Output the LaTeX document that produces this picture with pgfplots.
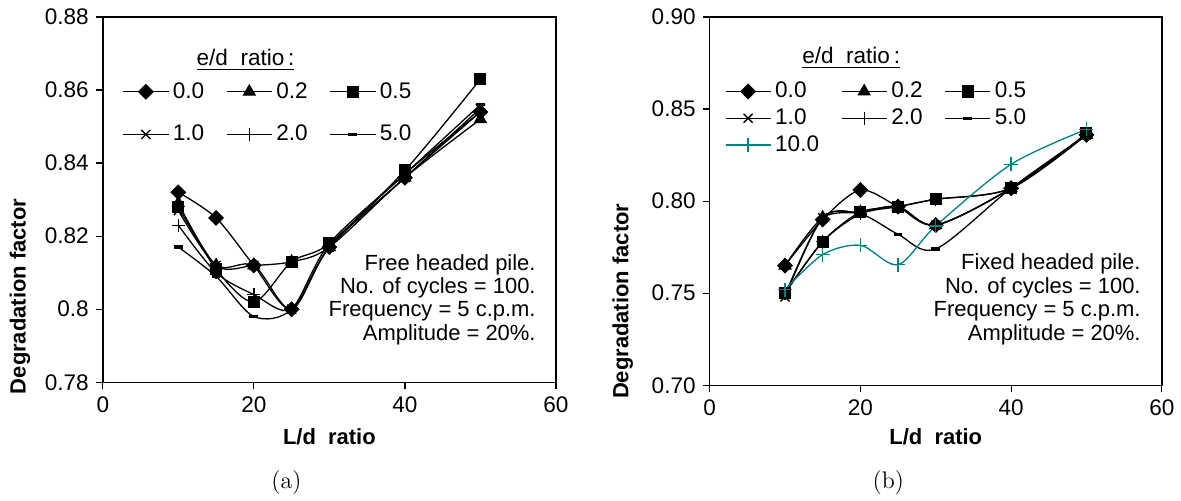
\documentclass[border=0pt]{standalone}
\usepackage{pgfplots}
\usepackage{pgfplotstable}
\usepackage{fontspec}
\pgfplotsset{compat=1.18}
\newfontfamily\arial{Liberation Sans}
\definecolor{tealc}{RGB}{0,128,128}

\pgfplotstableread{
x  d00   d02   d05   d10   d20   d50
10 0.832 0.829 0.828 0.827 0.823 0.817
15 0.825 0.812 0.811 0.812 0.810 0.809
20 0.812 0.812 0.802 0.812 0.804 0.798
25 0.800 0.813 0.813 0.800 0.800 0.800
30 0.817 0.817 0.818 0.817 0.817 0.818
40 0.836 0.836 0.838 0.836 0.837 0.837
50 0.854 0.852 0.863 0.855 0.854 0.856
}\leftdata

\pgfplotstableread{
x  d00   d02   d05   d10   d20   d50   d100
10 0.765 0.765 0.750 0.748 0.750 0.749 0.752
15 0.790 0.791 0.778 0.791 0.778 0.791 0.771
20 0.806 0.794 0.794 0.794 0.793 0.793 0.776
25 0.797 0.797 0.797 0.797 0.797 0.782 0.7655
30 0.787 0.787 0.801 0.787 0.801 0.774 0.7865
40 0.807 0.807 0.807 0.807 0.807 0.807 0.820
50 0.836 0.836 0.837 0.836 0.836 0.836 0.839
}\rightdata

\pgfplotsset{
  common/.style={
    scale only axis,
    xmin=0, xmax=60, xtick={0,20,40,60},
    axis line style={line width=0.7pt},
    tick style={line width=0.6pt, black},
    tick align=outside, major tick length=3.5pt,
    xtick pos=bottom, ytick pos=left,
    /pgf/number format/assume math mode=true,
    tick label style={font=\arial\fontsize{11.3}{13}\selectfont},
    label style={font=\arial\bfseries\fontsize{11}{13}\selectfont},
    xlabel={L/d\ \ ratio},
    ylabel={Degradation factor},
    legend columns=3,
    legend cell align=left,
    legend image code/.code={\draw[mark repeat=2,mark phase=2,##1] plot coordinates {(0pt,0pt) (11.25pt,0pt) (22.5pt,0pt)};},
    every axis plot/.append style={line width=0.65pt, smooth, tension=0.5},
  },
  s00/.style={black, mark=square*, mark size=2.5pt, mark options={rotate=45, solid}},
  s02/.style={black, mark=triangle*, mark size=3.3pt, mark options={solid}},
  s05/.style={black, mark=square*, mark size=2.7pt, mark options={solid}},
  s10/.style={black, mark=x, mark size=3.2pt, mark options={solid}},
  s20/.style={black, mark=+, mark size=3.2pt, mark options={solid}},
  s50/.style={black, mark=-, mark size=2.2pt, mark options={solid, line width=1.7pt}},
  s100/.style={tealc, mark=+, mark size=3.5pt, mark options={solid}},
}

\begin{document}
\begin{tikzpicture}
\path (0,0) rectangle (590.5pt,-248.5pt);

\begin{axis}[common,
  at={(51.5pt,-191.5pt)}, anchor=south west,
  width=227pt, height=183pt,
  ymin=0.78, ymax=0.88,
  ytick={0.78,0.80,0.82,0.84,0.86,0.88},
  yticklabels={0.78,0.8,0.82,0.84,0.86,0.88},
  xlabel style={at={(axis description cs:0.5,-0.150)}, anchor=center},
  ylabel style={at={(axis description cs:-0.183,0.235)}, anchor=center},
  legend style={at={(axis description cs:0.043,0.833)}, anchor=north west,
    draw=none, fill=none, inner sep=0pt,
    font=\arial\fontsize{11.3}{13}\selectfont,
    /tikz/row sep=8pt,
    /tikz/every even column/.append style={column sep=9pt}},
]
\addplot[s00] table[x=x,y=d00]{\leftdata};
\addplot[s02] table[x=x,y=d02]{\leftdata};
\addplot[s05] table[x=x,y=d05]{\leftdata};
\addplot[s10] table[x=x,y=d10]{\leftdata};
\addplot[s20] table[x=x,y=d20]{\leftdata};
\addplot[s50] table[x=x,y=d50]{\leftdata};
\legend{0.0,0.2,0.5,1.0,2.0,5.0}
\node[font=\arial\fontsize{11.3}{13}\selectfont, anchor=center] at (axis description cs:0.315,0.8825) {\underline{e/d\ \ ratio\,:}};
\node[anchor=north east, align=right, inner sep=0pt, font=\arial\fontsize{11}{11.75}\selectfont]
  at (axis description cs:0.956,0.352) {Free headed pile.\\No. of cycles = 100.\\Frequency = 5 c.p.m.\\Amplitude = 20\%.};
\end{axis}

\begin{axis}[common,
  at={(355.5pt,-193pt)}, anchor=south west,
  width=226.5pt, height=184.5pt,
  ymin=0.70, ymax=0.90,
  ytick={0.70,0.75,0.80,0.85,0.90},
  yticklabels={0.70,0.75,0.80,0.85,0.90},
  xlabel style={at={(axis description cs:0.5,-0.141)}, anchor=center},
  ylabel style={at={(axis description cs:-0.192,0.228)}, anchor=center},
  legend style={at={(axis description cs:0.033,0.835)}, anchor=north west,
    draw=none, fill=none, inner sep=0pt,
    font=\arial\fontsize{11.3}{13}\selectfont,
    /tikz/row sep=0pt,
    /tikz/every even column/.append style={column sep=9pt}},
]
\addplot[s00] table[x=x,y=d00]{\rightdata};
\addplot[s02] table[x=x,y=d02]{\rightdata};
\addplot[s05] table[x=x,y=d05]{\rightdata};
\addplot[s10] table[x=x,y=d10]{\rightdata};
\addplot[s20] table[x=x,y=d20]{\rightdata};
\addplot[s50] table[x=x,y=d50]{\rightdata};
\addplot[s100] table[x=x,y=d100]{\rightdata};
\legend{0.0,0.2,0.5,1.0,2.0,5.0,10.0}
\node[font=\arial\fontsize{11.3}{13}\selectfont, anchor=center] at (axis description cs:0.313,0.889) {\underline{e/d\ \ ratio\,:}};
\node[anchor=north east, align=right, inner sep=0pt, font=\arial\fontsize{11}{11.75}\selectfont]
  at (axis description cs:0.954,0.358) {Fixed headed pile.\\No. of cycles = 100.\\Frequency = 5 c.p.m.\\Amplitude = 20\%.};
\end{axis}

\node[anchor=center, font=\fontsize{12}{14}\selectfont] at (143.5pt,-241.5pt) {(a)};
\node[anchor=center, font=\fontsize{12}{14}\selectfont] at (445pt,-241.5pt) {(b)};
\end{tikzpicture}
\end{document}
